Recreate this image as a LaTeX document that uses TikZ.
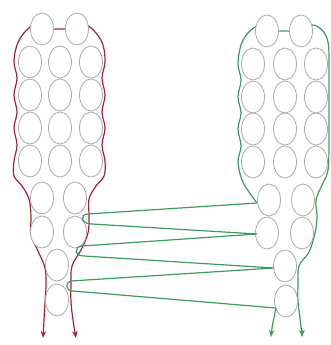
\documentclass[tikz,border=0pt]{standalone}
\usetikzlibrary{shapes.geometric,arrows.meta}
\definecolor{beadgray}{RGB}{170,170,170}
\definecolor{redthread}{RGB}{165,35,55}
\definecolor{greenthread}{RGB}{60,155,95}
\begin{document}
\begin{tikzpicture}[x=1pt,y=-1pt,
  bead/.style={ellipse,draw=beadgray,fill=white,line width=0.8pt,minimum width=23pt,minimum height=32pt,inner sep=0pt},
  redthr/.style={draw=redthread,line width=1.2pt},
  grnthr/.style={draw=greenthread,line width=1.2pt},
  tipend/.style={-{Stealth[length=7pt,width=5.5pt]}},
  tipboth/.style={{Stealth[length=7pt,width=5.5pt]}-{Stealth[length=7pt,width=5.5pt]}}]
\useasboundingbox (0,0) rectangle (331,345);
% red thread (left column)
\draw[redthr,tipboth] plot[smooth,tension=0.6] coordinates {
 (43,338) (44,320) (45,302) (46,285) (45,268) (38,251) (31,235) (31,216) (29,199) (22,186) (14,176)
 (14,161) (17,145) (14,128) (17,112) (14,95) (17,78) (14,62) (17,45) (24,33) (34,25) (42,29) (60,29)
 (77,29) (86,25) (96,33) (103,45) (105,62) (102,78) (105,95) (102,112) (105,128) (102,145) (105,161)
 (104,176) (96,186) (89,199) (89,216) (88,233) (81,250) (72,266) (71,285) (71,302) (73,320) (76,338)};
% green thread (right column) outer part
\draw[grnthr] plot[smooth,tension=0.6] coordinates {
 (257,203) (249,192) (242,180) (238,162) (241,146) (238,129) (241,113) (238,97) (241,80) (238,64)
 (241,45) (248,33) (258,26) (267,31) (284,31) (301,31) (312,25) (322,30) (328,42) (329,64) (329,100)
 (329,140) (328,170) (322,185) (316,200) (317,217) (315,233) (309,252) (299,266) (298,285) (298,301)
 (300,318) (302,336)};
\draw[grnthr,tipend] (302,330) -- (302,337);
% beads, left
\foreach \n/\x/\y in {lt1/42/29, lt2/77/29,
  l11/30/62, l12/60/62, l13/91/62,
  l21/30/95, l22/60/95, l23/91/95,
  l31/30/128, l32/60/128, l33/91/128,
  l41/30/161, l42/60/161, l43/91/161,
  la1/42/198, la2/75/198, lb1/42/232, lb2/75/232, lc/57/265, ld/57/300}
  \node[bead] (\n) at (\x,\y) {};
% beads, right
\foreach \n/\x/\y in {rt1/267/31, rt2/301/31,
  r11/253/64, r12/285/64, r13/316/64,
  r21/253/97, r22/285/97, r23/316/97,
  r31/253/129, r32/285/129, r33/316/129,
  r41/253/162, r42/285/162, r43/316/162,
  ra1/269/200, ra2/303/200, rb1/267/233, rb2/302/233, rc/285/266, rd/286/301}
  \node[bead] (\n) at (\x,\y) {};
% joining green thread
\coordinate (g0) at (257,203);
\coordinate (g1) at (88,214);
\coordinate (g2) at (92,224);
\coordinate (g3) at (257,234);
\coordinate (g4) at (82,246);
\coordinate (g5) at (84,256);
\coordinate (g6) at (274,268);
\coordinate (g7) at (71,281);
\coordinate (g8) at (73,291);
\coordinate (g9) at (276,308);
\coordinate (gend) at (271,337);
\draw[grnthr] (g0) -- (g1) .. controls (80,214) and (80,224) .. (g2) -- (g3) -- (g4)
  .. controls (74,247) and (74,256) .. (g5) -- (g6) -- (g7)
  .. controls (65,282) and (65,291) .. (g8) -- (g9);
\draw[grnthr,tipend] (g9) .. controls (274,318) and (272,326) .. (gend);
\end{tikzpicture}
\end{document}
